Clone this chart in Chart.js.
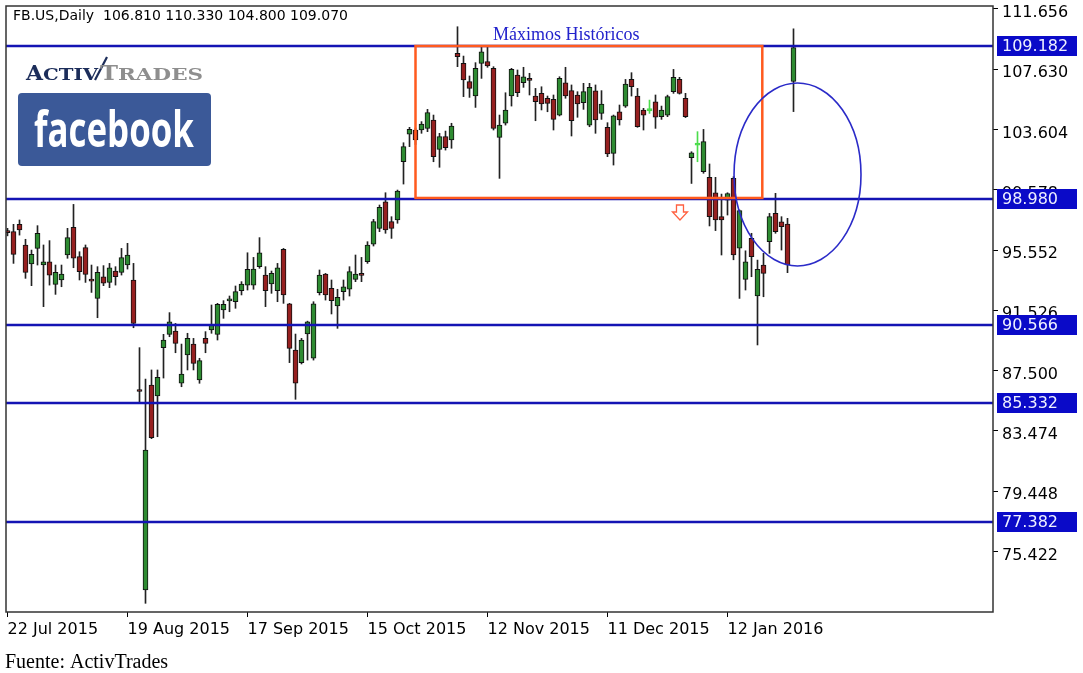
<!DOCTYPE html>
<html>
<head>
<meta charset="utf-8">
<title>FB.US Daily</title>
<script src="https://cdn.jsdelivr.net/npm/chart.js@4.4.0/dist/chart.umd.min.js"></script>
<style>
body { margin: 0; background: #fff; }
#wrap { width: 1083px; height: 673px; }
</style>
</head>
<body>
<div id="wrap"><canvas id="chart" width="1083" height="673"></canvas></div>
<script>
"use strict";

// daily candles, 22 Jul 2015 .. 28 Jan 2016
var opens = [
	96.78, 96.78, 97.27, 95.89, 94.62, 95.66, 94.55, 94.77, 93.26, 93.55,
	95.22, 97.07, 95.11, 95.71, 93.52, 92.32, 93.77, 93.39, 94.15, 94.06,
	94.55, 93.55, 86.15, 72.84, 86.53, 85.80, 89.03, 89.92, 90.14, 86.65,
	88.54, 89.27, 86.87, 89.65, 90.21, 89.92, 91.55, 92.15, 92.10, 92.84,
	93.21, 93.21, 94.44, 93.88, 93.28, 92.84, 95.60, 91.95, 88.87, 88.03,
	89.94, 88.32, 92.70, 93.95, 92.99, 91.81, 92.77, 92.93, 93.59, 93.90,
	94.77, 95.95, 97.00, 98.78, 97.45, 97.56, 101.45, 103.30, 103.57, 103.57,
	103.68, 104.24, 102.28, 103.13, 102.90, 108.69, 108.02, 106.80, 105.84, 108.02,
	108.14, 107.69, 103.08, 104.02, 105.84, 107.24, 106.73, 106.93, 105.84, 106.02,
	105.69, 105.62, 104.57, 106.73, 106.20, 105.91, 105.40, 103.90, 106.18, 104.68,
	103.75, 102.01, 104.79, 105.17, 106.95, 105.84, 104.91, 104.85, 105.46, 104.46,
	104.57, 106.13, 106.95, 105.69, 101.72, 102.55, 100.79, 100.41, 99.38, 97.78,
	98.89, 100.34, 95.67, 93.59, 96.33, 92.48, 94.55, 96.11, 98.00, 97.44,
	97.29, 106.81
];
var highs = [
	97.00, 97.27, 97.56, 96.27, 95.55, 97.18, 95.89, 96.18, 94.55, 94.55,
	97.00, 98.60, 95.44, 95.89, 94.55, 94.44, 94.51, 94.66, 94.44, 95.66,
	96.00, 94.66, 89.03, 86.93, 87.54, 87.54, 89.92, 91.37, 90.65, 89.27,
	89.99, 89.65, 88.32, 90.10, 91.88, 91.99, 92.17, 92.48, 93.15, 93.44,
	95.37, 95.06, 96.38, 94.44, 94.15, 94.66, 95.66, 91.99, 89.94, 89.65,
	90.80, 92.10, 94.22, 93.99, 93.55, 92.93, 93.55, 94.44, 95.22, 95.06,
	96.11, 97.60, 98.56, 99.38, 97.78, 99.56, 102.72, 103.75, 103.70, 104.13,
	104.95, 104.57, 103.35, 103.50, 104.02, 110.47, 108.51, 107.18, 108.07, 109.18,
	109.14, 107.80, 104.57, 106.06, 107.69, 107.58, 107.76, 107.36, 106.35, 106.46,
	105.84, 105.91, 107.13, 107.76, 106.58, 106.13, 106.69, 106.69, 106.58, 106.20,
	104.06, 104.57, 105.24, 106.95, 107.40, 106.35, 105.02, 105.57, 105.91, 105.17,
	105.90, 107.62, 107.09, 106.02, 102.12, 103.46, 103.61, 101.30, 100.41, 99.29,
	99.38, 100.45, 98.23, 95.50, 96.67, 94.88, 95.33, 98.00, 99.34, 97.78,
	97.67, 110.33
];
var lows = [
	96.50, 94.66, 96.55, 93.66, 93.17, 94.55, 91.77, 93.21, 92.59, 93.10,
	95.00, 94.37, 93.55, 93.39, 92.72, 91.03, 93.17, 93.04, 93.21, 93.88,
	94.28, 90.36, 85.37, 71.95, 82.95, 83.08, 87.00, 89.76, 88.69, 86.42,
	87.54, 87.54, 86.65, 88.69, 89.99, 89.54, 90.99, 91.43, 91.66, 92.55,
	92.88, 92.93, 94.33, 91.77, 92.66, 92.10, 91.99, 88.03, 85.58, 87.94,
	88.20, 88.20, 92.55, 92.21, 91.28, 90.32, 92.21, 92.48, 93.44, 93.44,
	94.66, 95.82, 96.78, 96.67, 96.33, 97.34, 99.96, 102.46, 102.60, 103.35,
	103.46, 101.45, 101.08, 102.23, 102.35, 107.80, 105.80, 105.75, 105.08, 107.02,
	107.76, 103.57, 100.34, 103.90, 105.17, 105.80, 106.42, 105.91, 104.19, 104.91,
	104.79, 103.57, 104.51, 105.69, 103.17, 104.42, 104.95, 103.79, 103.35, 104.28,
	101.79, 101.23, 103.90, 105.08, 105.84, 103.75, 103.57, 104.68, 103.68, 104.28,
	104.46, 106.02, 105.97, 104.40, 100.00, 101.45, 100.68, 97.16, 96.85, 95.22,
	97.89, 94.90, 92.32, 92.88, 93.77, 89.21, 92.43, 95.33, 96.67, 95.55,
	94.04, 104.80
];
var closes = [
	96.72, 95.26, 96.89, 94.06, 95.26, 96.67, 94.77, 93.88, 94.06, 93.95,
	96.38, 95.00, 94.10, 93.93, 93.48, 94.06, 93.33, 94.37, 93.77, 95.04,
	95.22, 90.65, 86.10, 82.19, 83.02, 87.05, 89.54, 90.76, 89.32, 87.27,
	89.65, 87.98, 88.16, 89.32, 90.54, 91.92, 91.92, 92.21, 92.77, 93.28,
	94.26, 94.28, 95.37, 92.84, 93.99, 94.37, 92.55, 88.98, 86.65, 89.54,
	90.76, 91.95, 93.88, 92.55, 92.17, 92.39, 93.10, 94.11, 93.95, 93.86,
	95.89, 97.45, 98.40, 96.89, 97.00, 99.49, 102.46, 103.62, 102.90, 103.97,
	104.73, 101.79, 103.13, 102.39, 103.84, 108.47, 106.91, 106.35, 107.69, 108.80,
	107.85, 103.68, 103.90, 104.91, 107.62, 106.06, 107.13, 106.89, 105.46, 105.31,
	105.35, 104.28, 107.02, 105.84, 104.19, 105.31, 106.13, 106.42, 104.24, 105.31,
	101.97, 104.51, 104.24, 106.64, 106.46, 103.79, 104.57, 105.00, 104.42, 104.91,
	105.80, 107.09, 106.02, 104.46, 102.05, 102.70, 102.79, 97.78, 97.56, 97.56,
	99.33, 95.22, 98.18, 94.77, 95.11, 94.26, 93.99, 97.78, 96.78, 97.11,
	94.55, 109.07
];
// bars drawn in light green on the original
var brightBars = [107, 115];

var tickIndex = [0, 20, 40, 60, 80, 100, 120];
var tickLabels = ["22 Jul 2015", "19 Aug 2015", "17 Sep 2015", "15 Oct 2015", "12 Nov 2015", "11 Dec 2015", "12 Jan 2016"];
var priceTicks = [111.656, 107.630, 103.604, 99.578, 95.552, 91.526, 87.500, 83.474, 79.448, 75.422];
var levels = [109.182, 98.980, 90.566, 85.332, 77.382];

// drawings on top of the chart, in data units
var maxBox = { x0: 68, x1: 125.8, top: 109.182, bottom: 99.03 };
var circleMark = { x: 131.67, y: 100.6, rx: 10.58, ry: 6.11 };
var arrowMark = { x: 112.08, y: 98.56 };
var maxLabel = { x: 80.9, y: 109.92, text: "Máximos Históricos" };

var UP = "#2e8b32", DOWN = "#962020", BRIGHT = "#4cdc4c";
var AXIS_FONT = "DejaVu Sans";

function candleColor(i) {
	if (brightBars.indexOf(i) >= 0) return BRIGHT;
	return closes[i] >= opens[i] ? UP : DOWN;
}

var wickData = [], bodyData = [], bodyColors = [], bodyBorders = [], wickColors = [];
for (var i = 0; i < opens.length; i++) {
	wickData.push({ x: i, y: [lows[i], highs[i]] });
	bodyData.push({ x: i, y: [opens[i], closes[i]] });
	bodyColors.push(candleColor(i));
	var bright = brightBars.indexOf(i) >= 0;
	bodyBorders.push(bright ? BRIGHT : "#111");
	wickColors.push(bright ? BRIGHT : "#222");
}

// text stretched (or squeezed) to a given width
function fillWide(ctx, text, x, y, width) {
	var w = ctx.measureText(text).width;
	ctx.save();
	ctx.translate(x, y);
	ctx.scale(width / w, 1);
	ctx.fillText(text, 0, 0);
	ctx.restore();
}

function drawLogos(ctx) {
	ctx.save();
	ctx.textBaseline = "alphabetic";
	ctx.fillStyle = "#1c2d5a";
	ctx.font = "bold 21px 'DejaVu Serif'";
	fillWide(ctx, "A", 26, 80, 17);
	ctx.font = "bold 16px 'DejaVu Serif'";
	fillWide(ctx, "CTIV", 43, 80, 55);
	ctx.strokeStyle = "#1c2d5a";
	ctx.lineWidth = 2.2;
	ctx.beginPath();
	ctx.moveTo(95, 80);
	ctx.lineTo(107, 57);
	ctx.stroke();
	ctx.fillStyle = "#8e8e8e";
	ctx.font = "bold 21px 'DejaVu Serif'";
	fillWide(ctx, "T", 100, 80, 18);
	ctx.font = "bold 16px 'DejaVu Serif'";
	fillWide(ctx, "RADES", 118, 80, 85);

	ctx.fillStyle = "#3b5998";
	ctx.beginPath();
	if (ctx.roundRect) ctx.roundRect(18, 93, 193, 73, 4);
	else ctx.rect(18, 93, 193, 73);
	ctx.fill();
	ctx.fillStyle = "#fff";
	ctx.font = "bold 50px 'Open Sans'";
	ctx.fillText("facebook", 34, 147, 160);
	ctx.restore();
}

var overlayPlugin = {
	id: "overlay",
	beforeDraw: function(chart) {
		var ctx = chart.ctx;
		ctx.save();
		ctx.fillStyle = "#fff";
		ctx.fillRect(0, 0, chart.width, chart.height);
		ctx.restore();
	},
	afterDatasetsDraw: function(chart) {
		var ctx = chart.ctx, xs = chart.scales.x, ys = chart.scales.y, a = chart.chartArea;
		ctx.save();
		ctx.beginPath();
		ctx.rect(a.left, a.top, a.right - a.left, a.bottom - a.top);
		ctx.clip();

		ctx.strokeStyle = "#1414b4";
		ctx.lineWidth = 2.5;
		levels.forEach(function(v) {
			var py = Math.round(ys.getPixelForValue(v));
			ctx.beginPath();
			ctx.moveTo(a.left, py);
			ctx.lineTo(a.right, py);
			ctx.stroke();
		});

		ctx.strokeStyle = "#ff5a1e";
		ctx.lineWidth = 2.5;
		var bx0 = xs.getPixelForValue(maxBox.x0), bx1 = xs.getPixelForValue(maxBox.x1);
		var by0 = ys.getPixelForValue(maxBox.top), by1 = ys.getPixelForValue(maxBox.bottom);
		ctx.strokeRect(bx0, by0, bx1 - bx0, by1 - by0);

		var cx = xs.getPixelForValue(circleMark.x), cy = ys.getPixelForValue(circleMark.y);
		var rx = xs.getPixelForValue(circleMark.x + circleMark.rx) - cx;
		var ry = cy - ys.getPixelForValue(circleMark.y + circleMark.ry);
		ctx.strokeStyle = "#2b2bc8";
		ctx.lineWidth = 1.6;
		ctx.beginPath();
		ctx.ellipse(cx, cy, rx, ry, 0, 0, Math.PI * 2);
		ctx.stroke();

		var ax = xs.getPixelForValue(arrowMark.x), ay = ys.getPixelForValue(arrowMark.y);
		ctx.strokeStyle = "#ff6040";
		ctx.lineWidth = 1.3;
		ctx.beginPath();
		ctx.moveTo(ax - 3.5, ay);
		ctx.lineTo(ax + 3.5, ay);
		ctx.lineTo(ax + 3.5, ay + 7);
		ctx.lineTo(ax + 7.5, ay + 7);
		ctx.lineTo(ax, ay + 15);
		ctx.lineTo(ax - 7.5, ay + 7);
		ctx.lineTo(ax - 3.5, ay + 7);
		ctx.closePath();
		ctx.stroke();

		ctx.fillStyle = "#2222cc";
		ctx.font = "18px 'Liberation Serif'";
		ctx.textBaseline = "middle";
		ctx.fillText(maxLabel.text, xs.getPixelForValue(maxLabel.x), ys.getPixelForValue(maxLabel.y));

		var n = opens.length - 1;
		ctx.fillStyle = "#000";
		ctx.font = "14px " + AXIS_FONT;
		ctx.fillText("FB.US,Daily  " + opens[n].toFixed(3) + " " + highs[n].toFixed(3) + " " +
			lows[n].toFixed(3) + " " + closes[n].toFixed(3), 13, 16);

		drawLogos(ctx);
		ctx.restore();
	},
	afterDraw: function(chart) {
		var ctx = chart.ctx, ys = chart.scales.y, a = chart.chartArea;
		ctx.save();
		ctx.strokeStyle = "#333";
		ctx.lineWidth = 1.5;
		ctx.strokeRect(a.left, a.top, a.right - a.left, a.bottom - a.top);

		ctx.font = "16px " + AXIS_FONT;
		ctx.textBaseline = "middle";
		levels.forEach(function(v) {
			var py = Math.round(ys.getPixelForValue(v));
			ctx.fillStyle = "#0a0ac8";
			ctx.fillRect(a.right + 4, py - 10, 80, 20);
			ctx.fillStyle = "#eef0ff";
			ctx.fillText(v.toFixed(3), a.right + 9, py + 1);
		});

		ctx.fillStyle = "#000";
		ctx.font = "20px 'Liberation Serif'";
		ctx.textBaseline = "alphabetic";
		ctx.fillText("Fuente: ActivTrades", 5, 668);
		ctx.restore();
	}
};

var ctx = document.getElementById("chart");
var fbChart = new Chart(ctx, {
	type: "bar",
	data: {
		datasets: [
			{
				label: "body",
				data: bodyData,
				backgroundColor: bodyColors,
				borderColor: bodyBorders,
				borderWidth: 1,
				borderSkipped: false,
				barThickness: 5,
				minBarLength: 2,
				grouped: false,
				order: 0
			},
			{
				label: "wick",
				data: wickData,
				backgroundColor: wickColors,
				borderWidth: 0,
				barThickness: 1,
				grouped: false,
				order: 1
			}
		]
	},
	options: {
		responsive: false,
		animation: false,
		devicePixelRatio: 1,
		layout: { padding: { left: 6, top: 6, right: 0, bottom: 0 } },
		plugins: { legend: { display: false }, tooltip: { enabled: false } },
		scales: {
			x: {
				type: "linear",
				offset: false,
				min: -0.25,
				max: 164.25,
				afterBuildTicks: function(scale) {
					scale.ticks = tickIndex.map(function(v) { return { value: v }; });
				},
				afterFit: function(scale) {
					scale.height = 61;
					scale.paddingLeft = 0;
					scale.paddingRight = 0;
				},
				grid: { offset: false, drawOnChartArea: false, drawTicks: true, tickLength: 5, color: "#000" },
				border: { display: false },
				ticks: {
					align: "start",
					maxRotation: 0,
					autoSkip: false,
					padding: 3,
					color: "#000",
					font: { family: AXIS_FONT, size: 16 },
					callback: function(v) { return tickLabels[tickIndex.indexOf(v)]; }
				}
			},
			y: {
				type: "linear",
				position: "right",
				min: 71.37,
				max: 111.855,
				afterBuildTicks: function(scale) {
					scale.ticks = priceTicks.map(function(v) { return { value: v }; });
				},
				afterFit: function(scale) {
					scale.width = 90;
					scale.paddingTop = 0;
					scale.paddingBottom = 0;
				},
				grid: { drawOnChartArea: false, drawTicks: true, tickLength: 5, color: "#000" },
				border: { display: false },
				ticks: {
					padding: 4,
					labelOffset: 4,
					color: "#000",
					font: { family: AXIS_FONT, size: 16 },
					callback: function(v) { return v.toFixed(3); }
				}
			}
		}
	},
	plugins: [overlayPlugin]
});
</script>
</body>
</html>
